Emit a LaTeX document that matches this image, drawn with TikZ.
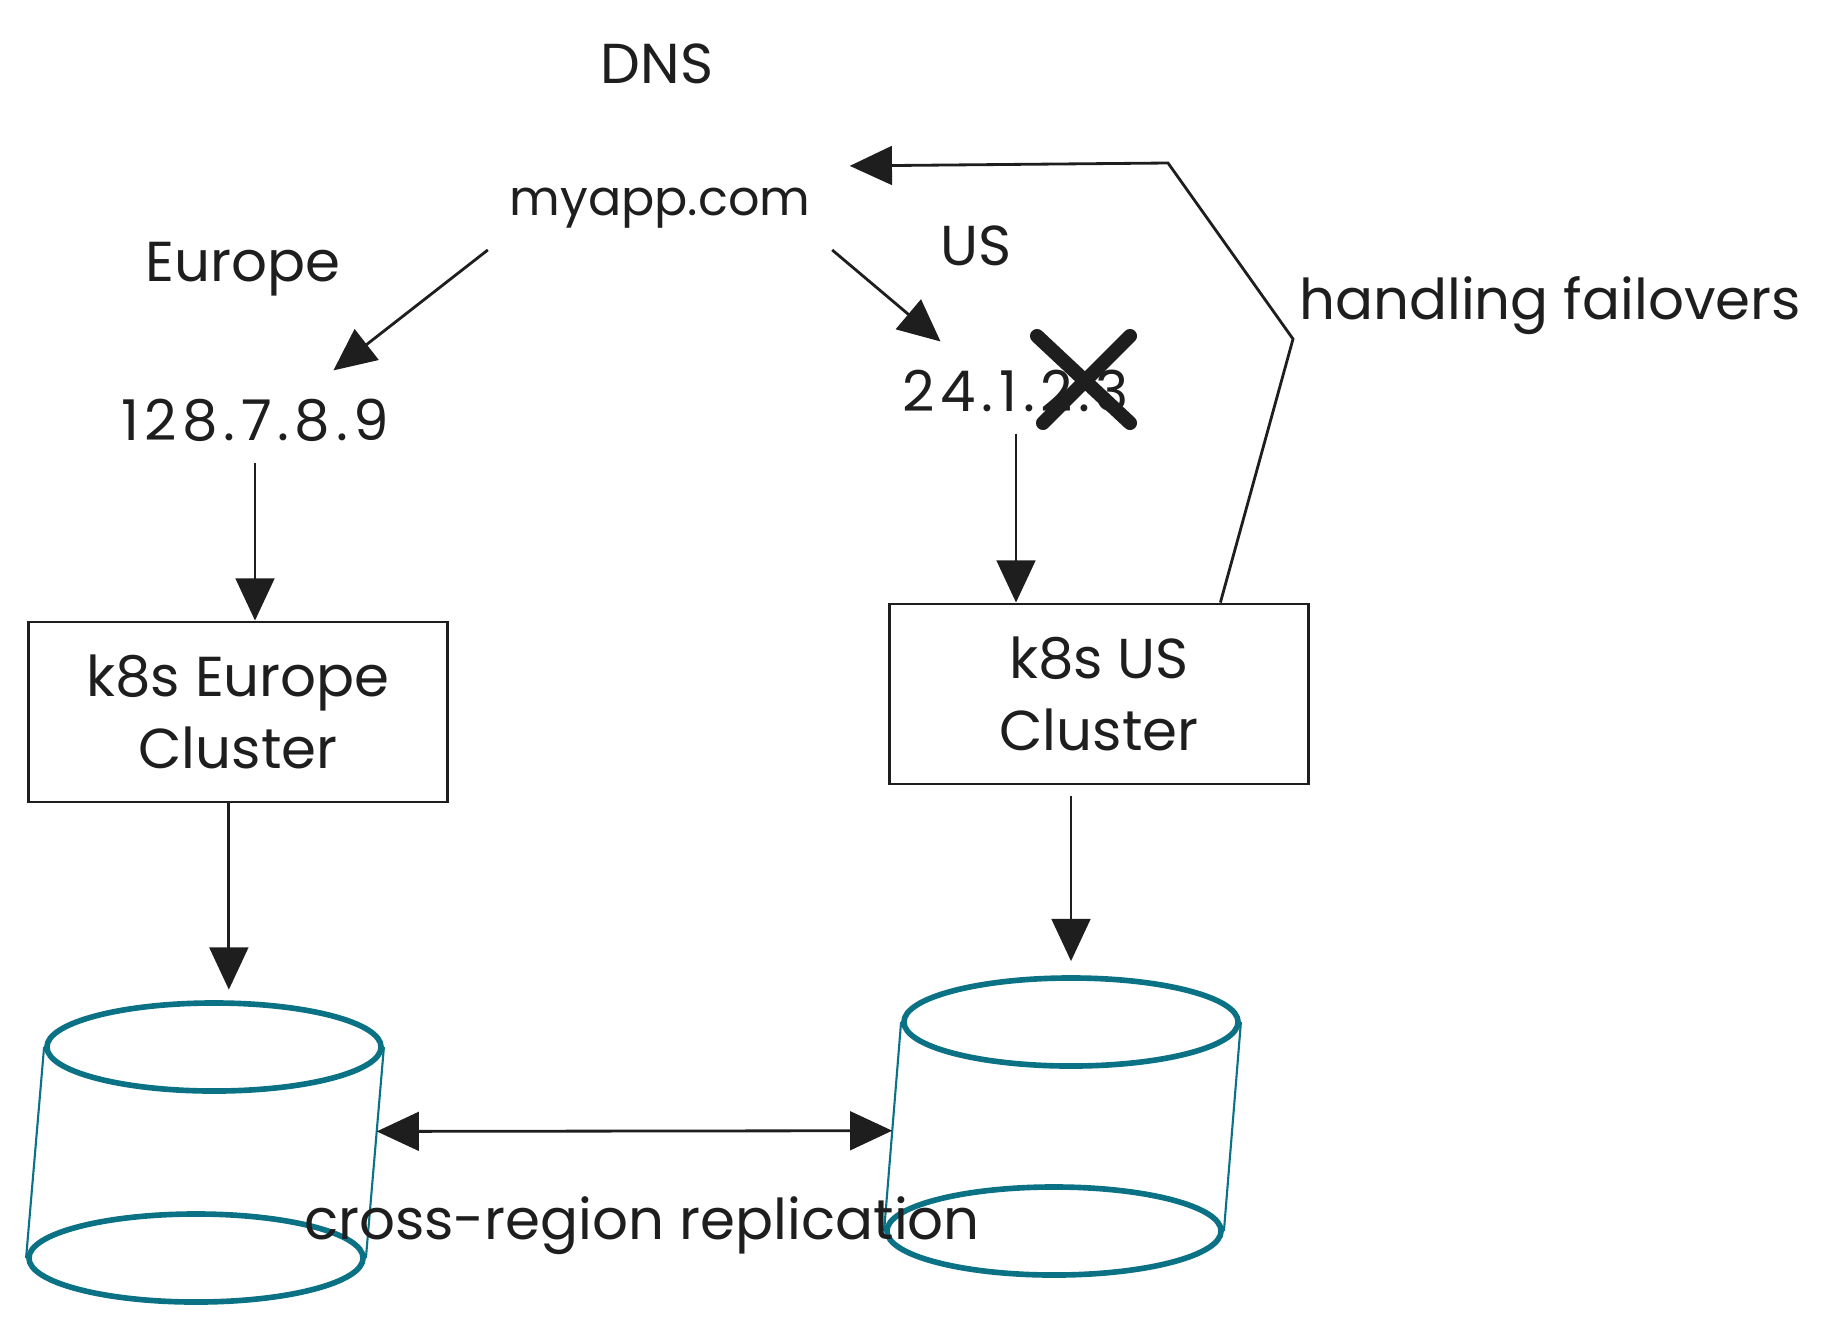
\documentclass[tikz,border=0pt]{standalone}
\usepackage{fontspec}
\setmainfont{Poppins}
\usetikzlibrary{arrows.meta, shapes.geometric, calc}
\definecolor{dbteal}{HTML}{0B7285}
\definecolor{inkgray}{HTML}{1E1E1E}

\begin{document}
\begin{tikzpicture}[
    x=0.01cm, y=-0.01cm,
    font=\fontsize{16}{20.5}\selectfont,
    txt/.style={text=inkgray, inner sep=6pt},
    iptxt/.style={txt, font=\fontsize{16}{20.5}\selectfont\addfontfeature{LetterSpace=10}},
    cluster/.style={draw=inkgray, line width=0.8pt, minimum width=4.19cm, minimum height=1.8cm, align=center, text=inkgray},
    disk/.style={ellipse, draw=dbteal, line width=1.6pt, minimum width=3.34cm, minimum height=0.88cm, inner sep=0pt},
    side/.style={draw=dbteal, line width=0.6pt},
    arr/.style={draw=inkgray, line width=0.8pt, -{Triangle[length=12pt, width=11pt]}},
    biarr/.style={arr, {Triangle[length=12pt, width=11pt]}-{Triangle[length=12pt, width=11pt]}},
    failmark/.style={draw=inkgray, line width=4pt, line cap=round}
]
\useasboundingbox (0,0) rectangle (1831,1330);

% DNS entry
\node[txt] (dns) at (657,64) {DNS};
\node[txt, font=\fontsize{14}{18}\selectfont] (myapp) at (660,208) {myapp.com};

% Regions
\node[txt] (europe) at (243,269) {Europe};
\node[txt] (us) at (976,246) {US};

% IP addresses
\node[iptxt] (ipeu) at (255,420) {128.7.8.9};
\node[iptxt] (ipus) at (1016,391) {24.1.2.3};

% US address is down
\draw[failmark] (1037,336) -- (1130,423);
\draw[failmark] (1130,336) -- (1043,423);

% Clusters
\node[cluster] (k8seu) at (238,712) {k8s Europe\\Cluster};
\node[cluster] (k8sus) at (1099,694) {k8s US\\Cluster};

% Databases
\node[disk] (dbeutop) at (214,1047) {};
\node[disk] (dbeubot) at (196,1258) {};
\draw[side] (dbeutop.west) -- (dbeubot.west);
\draw[side] (dbeutop.east) -- (dbeubot.east);

\node[disk] (dbustop) at (1071,1022) {};
\node[disk] (dbusbot) at (1054,1231) {};
\draw[side] (dbustop.west) -- (dbusbot.west);
\draw[side] (dbustop.east) -- (dbusbot.east);

% Arrows
\draw[arr, shorten >=3pt] (myapp.south west) -- ($(ipeu.north)!0.45!(ipeu.north east)$);
\draw[arr, shorten >=3pt] (myapp.south east) -- ($(ipus.north west)!0.5!(ipus.north)$);
\draw[arr] (ipeu.south) -- (ipeu.south |- k8seu.north);
\draw[arr] (ipus.south) -- (ipus.south |- k8sus.north);
\draw[arr, shorten >=3pt] ([xshift=-2.6pt]k8seu.south) -- ([xshift=-2.6pt]k8seu.south |- dbeutop.north);
\draw[arr, shorten <=3pt, shorten >=4pt] (dbustop.north |- k8sus.south) -- (dbustop.north);

% Replication
\draw[biarr] ($(dbeutop.east)!0.4!(dbeubot.east)$) -- ($(dbustop.west)!0.52!(dbusbot.west)$);
\node[txt] (repl) at (642,1226) {cross-region replication};

% Failover back to DNS
\coordinate (fbend1) at (1293,339);
\coordinate (fbend2) at (1168,163);
\draw[arr, shorten >=5pt] (k8sus.37) -- (fbend1) -- (fbend2) -- (myapp.north east);
\node[txt] (failtxt) at (1550,306) {handling failovers};

\end{tikzpicture}
\end{document}
